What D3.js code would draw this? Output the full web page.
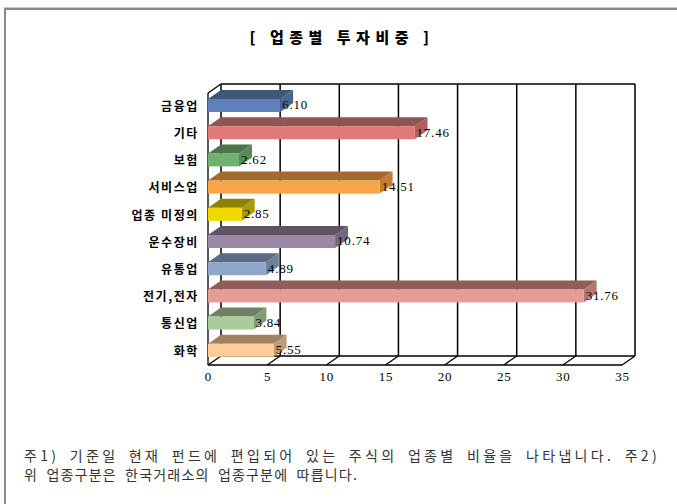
<!DOCTYPE html>
<html><head><meta charset="utf-8">
<script src="https://cdn.jsdelivr.net/npm/d3@7"></script>
<style>body{margin:0;background:#fff;}svg{display:block;}</style>
</head><body>
<script>
const categories = ["금융업","기타","보험","서비스업","업종 미정의","운수장비","유통업","전기,전자","통신업","화학"];
const values = [6.10,17.46,2.62,14.51,2.85,10.74,4.89,31.76,3.84,5.55];
const valueLabels = ["6.10","17.46","2.62","14.51","2.85","10.74","4.89","31.76","3.84","5.55"];
const tickValues = [0,5,10,15,20,25,30,35];
const frontColors = ["#5f80b8","#e07a78","#72b070","#f9a445","#f0d800","#9b88a6","#8ea7c9","#e69b94","#a9cc9c","#fdcc98"];
const topColors   = ["#3f5678","#8e5552","#4b754a","#a5692b","#8e8300","#615366","#5b6b82","#8f5e5a","#6c8262","#a08263"];
const sideColors  = ["#4a6591","#b05f5e","#578a56","#c27c33","#a89a00","#77667f","#6c809c","#b27770","#819d76","#c09c74"];
const title = "[ 업종별 투자비중 ]";
const notes = ["주1) 기준일 현재 펀드에 편입되어 있는 주식의 업종별 비율을 나타냅니다. 주2)","위 업종구분은 한국거래소의 업종구분에 따릅니다."];

const W = 677, H = 504;
const svg = d3.select("body").append("svg").attr("width", W).attr("height", H);

// frame lines
svg.append("rect").attr("x",4).attr("y",7).attr("width",W-4).attr("height",1).attr("fill","#c8c8c8");
svg.append("rect").attr("x",4).attr("y",8).attr("width",W-4).attr("height",2).attr("fill","#8a8a8a");
svg.append("rect").attr("x",4).attr("y",8).attr("width",2).attr("height",H-8).attr("fill","#8a8a8a");

const x = d3.scaleLinear().domain([0,35]).range([208,622]);
const y = d3.scaleBand().domain(categories).range([93,365]);
const dx = 13, dy = -9;
const top0 = y.range()[0], bot0 = y.range()[1];

const g = svg.append("g");
const line = (x1,y1,x2,y2,w=1.3) => g.append("line").attr("x1",x1).attr("y1",y1).attr("x2",x2).attr("y2",y2)
  .attr("stroke","#000").attr("stroke-width",w);

// back wall gridlines
tickValues.forEach(v => line(x(v)+dx, top0+dy, x(v)+dx, bot0+dy, 1.5));
line(x(0)+dx, top0+dy, x(35)+dx, top0+dy);
// left wall
line(x(0), top0, x(0), bot0);
line(x(0), top0, x(0)+dx, top0+dy);
// floor
line(x(0)+dx, bot0+dy, x(35)+dx, bot0+dy);
line(x(0), bot0, x(35), bot0, 1.5);
tickValues.forEach(v => line(x(v), bot0, x(v)+dx, bot0+dy));

// bars
const fh = 13, off = 6;
categories.forEach((c,i) => {
  const x0 = x(0), x1 = x(values[i]);
  const yt = y(c) + off;
  g.append("polygon").attr("points",[[x0,yt],[x0+dx,yt+dy],[x1+dx,yt+dy],[x1,yt]].map(p=>p.join(",")).join(" "))
    .attr("fill", topColors[i]);
  g.append("polygon").attr("points",[[x1,yt],[x1+dx,yt+dy],[x1+dx,yt+fh+dy],[x1,yt+fh]].map(p=>p.join(",")).join(" "))
    .attr("fill", sideColors[i]);
  g.append("rect").attr("x",x0).attr("y",yt).attr("width",x1-x0).attr("height",fh).attr("fill",frontColors[i]);
  g.append("text").attr("x", x1+2).attr("y", yt+fh/2+1).attr("dominant-baseline","middle")
    .attr("font-family","Liberation Serif").attr("font-size",13).attr("letter-spacing",0.8).attr("fill","#000").text(valueLabels[i]);
  g.append("text").attr("x", 199).attr("y", y(c)+y.bandwidth()/2+1).attr("dominant-baseline","middle")
    .attr("text-anchor","end").attr("font-family","Noto Sans CJK KR").attr("font-weight","bold")
    .attr("font-size",12).attr("letter-spacing",1.6).attr("fill","#000").text(c);
});

// x axis labels
const ax = svg.append("g").attr("transform",`translate(0,${bot0+4})`)
  .call(d3.axisBottom(x).tickValues(tickValues).tickSize(0).tickFormat(d3.format("d")));
ax.select(".domain").remove();
ax.selectAll("text").attr("font-family","Liberation Serif").attr("font-size",13).attr("letter-spacing",0.8).attr("fill","#000");

// title
svg.append("text").attr("x",342).attr("y",39).attr("text-anchor","middle").attr("dominant-baseline","middle")
  .attr("font-family","Noto Sans CJK KR").attr("font-weight","900").attr("font-size",15).attr("letter-spacing",5.5)
  .attr("fill","#000").text(title);

// notes: first line justified between all characters, second line natural
const noteTargets = [636, 334];
const ws = 4;
notes.forEach((t,i) => {
  const el = svg.append("text").attr("x",24).attr("y",461+i*19)
    .attr("font-family","Noto Sans CJK KR").attr("font-size",14).attr("fill","#333")
    .attr("word-spacing", ws).text(t);
  const nat = el.node().getComputedTextLength();
  el.attr("letter-spacing", Math.max(0, (noteTargets[i] - nat) / t.length));
});
</script>
</body></html>
